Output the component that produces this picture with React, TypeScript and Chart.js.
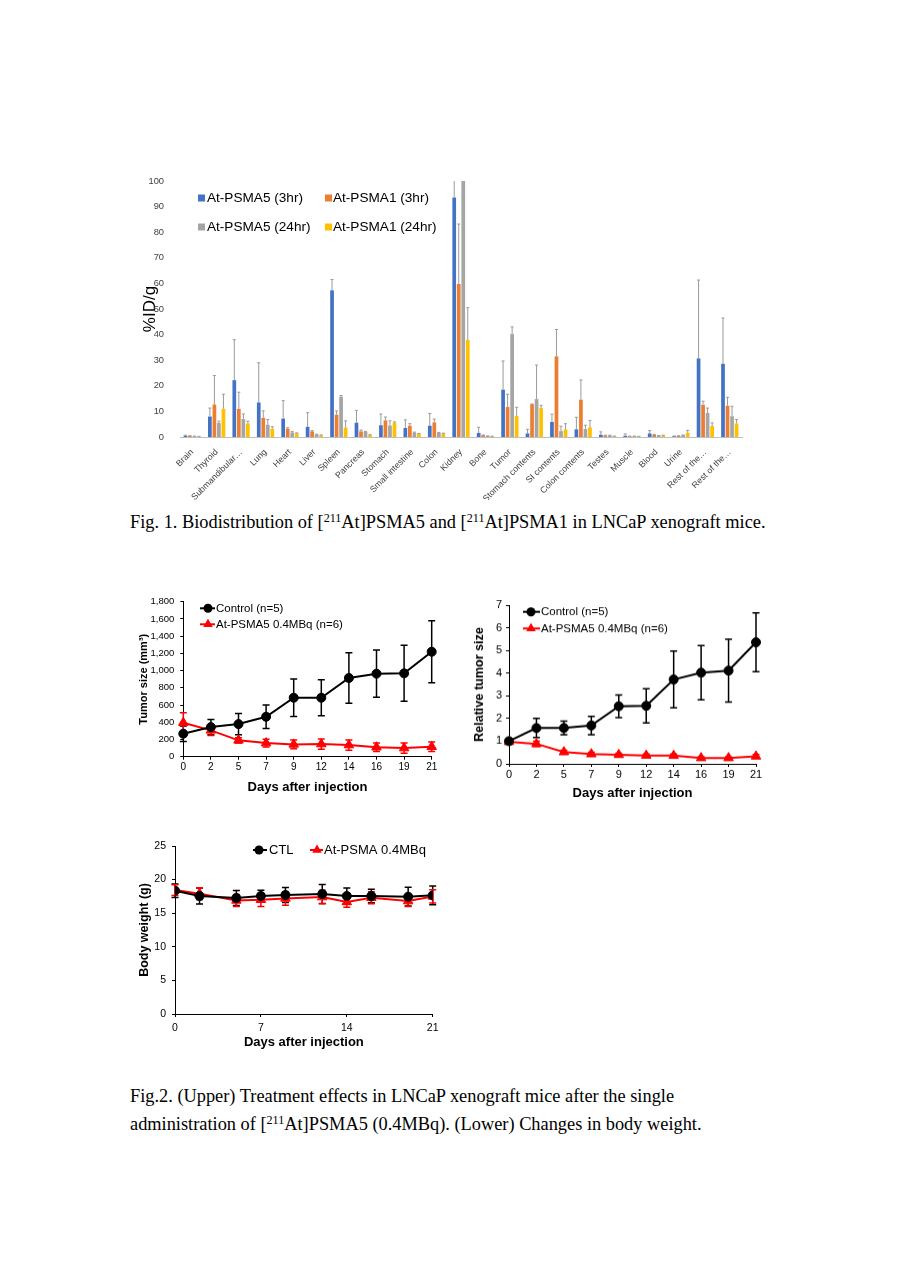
import React, { useEffect, useRef } from 'react';
import { Chart, registerables } from 'chart.js';

Chart.register(...registerables);
Chart.defaults.font.family = "'Liberation Sans', Arial, sans-serif";

// ---------------- Fig. 1 data ----------------
const ORGANS = ['Brain', 'Thyroid', 'Submandibular…', 'Lung', 'Heart', 'Liver', 'Spleen', 'Pancreas', 'Stomach', 'Small intestine', 'Colon', 'Kidney', 'Bone', 'Tumor', 'Stomach contents', 'SI contents', 'Colon contents', 'Testes', 'Muscle', 'Blood', 'Urine', 'Rest of the…', 'Rest of the…'];
const BAR_LABELS = ['At-PSMA5 (3hr)', 'At-PSMA1 (3hr)', 'At-PSMA5 (24hr)', 'At-PSMA1 (24hr)'];
const BAR_COLORS = ['#4472C4', '#ED7D31', '#A5A5A5', '#FFC000'];
const PSMA5_3H = [0.5, 8, 22.2, 13.5, 7.2, 4, 57.3, 5.6, 4.6, 3.5, 4.4, 93.6, 1.6, 18.5, 1.4, 5.9, 3, 0.9, 0.5, 1.4, 0.3, 30.7, 28.6];
const PSMA1_3H = [0.4, 12.7, 11, 7.5, 3.2, 2.2, 8.7, 2.2, 6.5, 4.4, 5.7, 59.8, 0.7, 11.7, 12.8, 31.5, 14.6, 0.6, 0.3, 0.8, 0.4, 12.6, 12.2];
const PSMA5_24H = [0.3, 5.5, 7, 4.8, 1.8, 1, 15.7, 2, 4.5, 1.7, 1.6, 106, 0.4, 40.2, 14.8, 2.3, 3.1, 0.6, 0.3, 0.5, 0.7, 9.4, 8.1];
const PSMA1_24H = [0.2, 11, 5.3, 3.2, 1.5, 0.7, 3.7, 0.8, 5.6, 1.3, 1.4, 37.9, 0.3, 8.2, 11.3, 3, 3.8, 0.3, 0.2, 0.6, 1.6, 4.3, 5.3];
const PSMA5_3H_SD = [0.2, 3.3, 15.8, 15.5, 7, 5.5, 4.2, 4.8, 4.4, 3.2, 4.8, 8, 2.2, 11.2, 1.6, 3, 4.7, 1.1, 0.7, 1.1, 0.1, 30.6, 17.9];
const PSMA1_3H_SD = [0.1, 11.3, 6.5, 2.7, 0.4, 0.3, 1.5, 0.5, 1.3, 0.8, 1.3, 23.4, 0.1, 5, 0.1, 10.5, 7.7, 0.1, 0.05, 0.2, 0.1, 1.4, 3.3];
const PSMA5_24H_SD = [0.05, 0.7, 2, 2, 0.4, 0.1, 0.5, 0.2, 1.8, 0.2, 0.2, 10, 0.05, 2.8, 13.3, 1.9, 1.5, 0.1, 0.05, 0.1, 0.1, 1.9, 3.9];
const PSMA1_24H_SD = [0.05, 5.7, 0.9, 0.8, 0.1, 0.1, 2.6, 0.1, 0.3, 0.1, 0.1, 12.6, 0.05, 3.4, 1.1, 2.2, 2.7, 0.05, 0.05, 0.1, 1, 1.2, 1.5];
const Y_TICKS_BAR = [0, 10, 20, 30, 40, 50, 60, 70, 80, 90, 100];

// ---------------- Fig. 2 data ----------------
const DAYS = [0, 2, 5, 7, 9, 12, 14, 16, 19, 21];
const DAY_LABELS = ['0', '2', '5', '7', '9', '12', '14', '16', '19', '21'];
const TUMOR_CTRL = [267, 344, 379, 464, 685, 685, 914, 964, 968, 1219];
const TUMOR_CTRL_SD = [90, 89, 124, 136, 217, 209, 294, 275, 325, 360];
const TUMOR_AT = [395, 306, 190, 158, 143, 147, 135, 110, 100, 116];
const TUMOR_AT_SD = [116, 60, 30, 45, 50, 60, 60, 50, 60, 55];
const REL_CTRL = [1, 1.58, 1.58, 1.69, 2.54, 2.56, 3.72, 4.02, 4.11, 5.36];
const REL_CTRL_SD = [0.05, 0.42, 0.3, 0.4, 0.5, 0.75, 1.25, 1.2, 1.38, 1.3];
const REL_AT = [0.97, 0.88, 0.52, 0.43, 0.4, 0.37, 0.36, 0.26, 0.26, 0.33];
const REL_AT_SD = [0.05, 0.12, 0.08, 0.08, 0.07, 0.06, 0.07, 0.05, 0.05, 0.08];
const BW_CTRL = [18.35, 17.56, 17.26, 17.56, 17.71, 17.86, 17.56, 17.56, 17.46, 17.66];
const BW_CTRL_SD = [1.0, 1.2, 1.1, 0.85, 1.1, 1.4, 1.2, 1.0, 1.4, 1.4];
const BW_AT = [18.45, 17.9, 16.9, 17.0, 17.2, 17.4, 16.67, 17.3, 16.8, 17.5];
const BW_AT_SD = [0.8, 0.9, 0.9, 1.0, 1.0, 1.0, 0.8, 0.9, 0.8, 1.0];

// ---------------- plugins ----------------
type ErrCfg = { errors: number[][]; colors: string[]; width: number; cap: number; both: boolean; phase: 'before' | 'after' };

function makeErrorPlugin(cfg: ErrCfg) {
  const draw = (chart: any) => {
    const { ctx, chartArea } = chart;
    ctx.save();
    ctx.beginPath();
    ctx.rect(0, chartArea.top, chart.width, chartArea.bottom - chartArea.top + 1);
    ctx.clip();
    chart.data.datasets.forEach((ds: any, i: number) => {
      const errs = cfg.errors[i];
      if (!errs) return;
      const meta = chart.getDatasetMeta(i);
      const yScale = chart.scales[meta.yAxisID];
      ctx.strokeStyle = cfg.colors[i];
      ctx.lineWidth = cfg.width;
      meta.data.forEach((el: any, j: number) => {
        const raw = ds.data[j];
        const v = typeof raw === 'number' ? raw : raw.y;
        const e = errs[j];
        const x = el.x;
        const yTop = yScale.getPixelForValue(v + e);
        const yBot = cfg.both ? yScale.getPixelForValue(v - e) : yScale.getPixelForValue(v);
        ctx.beginPath();
        ctx.moveTo(x, yBot);
        ctx.lineTo(x, yTop);
        ctx.moveTo(x - cfg.cap, yTop);
        ctx.lineTo(x + cfg.cap, yTop);
        if (cfg.both) {
          ctx.moveTo(x - cfg.cap, yBot);
          ctx.lineTo(x + cfg.cap, yBot);
        }
        ctx.stroke();
      });
    });
    ctx.restore();
  };
  return cfg.phase === 'before'
    ? { id: 'errBefore', beforeDatasetsDraw: draw }
    : { id: 'errAfter', afterDatasetsDraw: draw };
}

type LegItem = { index: number; x1: number; x2: number; mx: number; tx: number; y: number };
function makeLineLegend(items: LegItem[], fontSize: number) {
  return {
    id: 'lineLegend',
    afterDraw(chart: any) {
      const { ctx } = chart;
      ctx.save();
      items.forEach((it) => {
        const ds = chart.data.datasets[it.index];
        ctx.strokeStyle = ds.borderColor;
        ctx.lineWidth = ds.borderWidth;
        ctx.beginPath();
        ctx.moveTo(it.x1, it.y);
        ctx.lineTo(it.x2, it.y);
        ctx.stroke();
        ctx.fillStyle = ds.pointBackgroundColor;
        const r = ds.pointRadius;
        ctx.beginPath();
        if (ds.pointStyle === 'triangle') {
          let a = 0;
          ctx.moveTo(it.mx + Math.sin(a) * r, it.y - Math.cos(a) * r);
          a += (2 * Math.PI) / 3;
          ctx.lineTo(it.mx + Math.sin(a) * r, it.y - Math.cos(a) * r);
          a += (2 * Math.PI) / 3;
          ctx.lineTo(it.mx + Math.sin(a) * r, it.y - Math.cos(a) * r);
          ctx.closePath();
        } else {
          ctx.arc(it.mx, it.y, r, 0, Math.PI * 2);
        }
        ctx.fill();
        ctx.fillStyle = '#000';
        ctx.font = `${fontSize}px 'Liberation Sans', Arial, sans-serif`;
        ctx.textBaseline = 'middle';
        ctx.textAlign = 'left';
        ctx.fillText(ds.label, it.tx, it.y + 0.5);
      });
      ctx.restore();
    },
  };
}

type BoxItem = { index: number; x: number; tx: number; y: number };
function makeBoxLegend(items: BoxItem[], fontSize: number, size: number) {
  return {
    id: 'boxLegend',
    afterDraw(chart: any) {
      const { ctx } = chart;
      ctx.save();
      items.forEach((it) => {
        const ds = chart.data.datasets[it.index];
        ctx.fillStyle = ds.backgroundColor;
        ctx.fillRect(it.x, it.y - size / 2, size, size);
        ctx.fillStyle = '#000';
        ctx.font = `${fontSize}px 'Liberation Sans', Arial, sans-serif`;
        ctx.textBaseline = 'middle';
        ctx.textAlign = 'left';
        ctx.fillText(ds.label, it.tx, it.y + 0.5);
      });
      ctx.restore();
    },
  };
}

// ---------------- generic canvas component ----------------
function ChartBox({ left, top, width, height, make }: { left: number; top: number; width: number; height: number; make: () => any }) {
  const ref = useRef<HTMLCanvasElement | null>(null);
  useEffect(() => {
    if (!ref.current) return;
    const chart = new Chart(ref.current, make());
    return () => chart.destroy();
  }, []);
  return (
    <div style={{ position: 'absolute', left, top, width, height }}>
      <canvas ref={ref} />
    </div>
  );
}

const axisLine = (tickSize: number, pad: number, extra: any = {}) => ({
  grid: { display: true, drawOnChartArea: false, drawTicks: true, tickLength: 3, color: '#000', lineWidth: 1 },
  border: { display: true, color: '#000', width: 1 },
  ticks: { color: '#000', font: { size: tickSize }, padding: pad, autoSkip: false, ...extra },
});

function lineDataset(label: string, data: any[], color: string, style: string, radius: number) {
  return {
    label,
    data,
    borderColor: color,
    backgroundColor: color,
    borderWidth: 2,
    pointStyle: style,
    pointRadius: radius,
    pointBackgroundColor: color,
    pointBorderColor: color,
    pointBorderWidth: 1,
    tension: 0,
  };
}

function barConfig() {
  const series = [PSMA5_3H, PSMA1_3H, PSMA5_24H, PSMA1_24H];
  const sds = [PSMA5_3H_SD, PSMA1_3H_SD, PSMA5_24H_SD, PSMA1_24H_SD];
  return {
    type: 'bar',
    data: {
      labels: ORGANS,
      datasets: series.map((d, i) => ({
        label: BAR_LABELS[i],
        data: d,
        backgroundColor: BAR_COLORS[i],
        categoryPercentage: 0.74,
        barPercentage: 0.82,
      })),
    },
    options: {
      animation: false,
      responsive: true,
      maintainAspectRatio: false,
      layout: { padding: { top: 11, right: 18, left: 0, bottom: 0 } },
      plugins: { legend: { display: false }, tooltip: { enabled: false } },
      scales: {
        x: {
          grid: { display: false },
          border: { display: true, color: '#bfbfbf', width: 1 },
          ticks: { autoSkip: false, minRotation: 45, maxRotation: 45, font: { size: 8.8 }, color: '#404040', padding: 2 },
          afterFit: (s: any) => { s.height = 63; s.paddingLeft = 0; s.paddingRight = 0; },
        },
        y: {
          min: 0,
          max: 100,
          afterBuildTicks: (s: any) => { s.ticks = Y_TICKS_BAR.map((v) => ({ value: v })); },
          grid: { display: false },
          border: { display: false },
          ticks: { font: { size: 9.3 }, color: '#404040', padding: 8 },
          title: { display: true, text: '%ID/g', font: { size: 17 }, color: '#000', padding: 0 },
          afterFit: (s: any) => { s.width = 40; s.paddingTop = 0; s.paddingBottom = 0; },
        },
      },
    },
    plugins: [
      makeErrorPlugin({ errors: sds, colors: ['#9a9a9a', '#9a9a9a', '#9a9a9a', '#9a9a9a'], width: 1, cap: 1.5, both: false, phase: 'after' }),
      makeBoxLegend(
        [
          { index: 0, x: 58, tx: 67, y: 28 },
          { index: 1, x: 185, tx: 193, y: 28 },
          { index: 2, x: 58, tx: 67, y: 57 },
          { index: 3, x: 185, tx: 193, y: 57 },
        ],
        13.6,
        7
      ),
    ],
  };
}

function tumorConfig() {
  return {
    type: 'line',
    data: {
      labels: DAY_LABELS,
      datasets: [
        lineDataset('Control (n=5)', TUMOR_CTRL, '#000', 'circle', 4.5),
        lineDataset('At-PSMA5 0.4MBq (n=6)', TUMOR_AT, '#ff0000', 'triangle', 5.5),
      ],
    },
    options: {
      animation: false,
      responsive: true,
      maintainAspectRatio: false,
      layout: { padding: { top: 11.7, right: 18.3, left: 0, bottom: 0 } },
      plugins: { legend: { display: false }, tooltip: { enabled: false } },
      scales: {
        x: {
          type: 'category',
          offset: false,
          ...axisLine(10, 2),
          title: { display: true, text: 'Days after injection', font: { size: 13, weight: 'bold' }, color: '#000', padding: 0 },
          afterFit: (s: any) => { s.height = 38.3; s.paddingLeft = 0; s.paddingRight = 0; },
        },
        y: {
          min: 0,
          max: 1800,
          ...axisLine(9.5, 6, { stepSize: 200, callback: (v: number) => v.toLocaleString('en-US') }),
          title: { display: true, text: 'Tumor size (mm³)', font: { size: 11, weight: 'bold' }, color: '#000', padding: 0 },
          afterFit: (s: any) => { s.width = 46.3; s.paddingTop = 0; s.paddingBottom = 0; },
        },
      },
    },
    plugins: [
      makeErrorPlugin({ errors: [TUMOR_CTRL_SD, TUMOR_AT_SD], colors: ['#000', '#ff0000'], width: 1.5, cap: 3.5, both: true, phase: 'before' }),
      makeLineLegend(
        [
          { index: 0, x1: 63, x2: 78, mx: 71, tx: 79, y: 18.3 },
          { index: 1, x1: 63, x2: 78, mx: 71, tx: 79, y: 34.3 },
        ],
        11.5
      ),
    ],
  };
}

function relConfig() {
  return {
    type: 'line',
    data: {
      labels: DAY_LABELS,
      datasets: [
        lineDataset('Control (n=5)', REL_CTRL, '#000', 'circle', 4.5),
        lineDataset('At-PSMA5 0.4MBq (n=6)', REL_AT, '#ff0000', 'triangle', 5.5),
      ],
    },
    options: {
      animation: false,
      responsive: true,
      maintainAspectRatio: false,
      layout: { padding: { top: 15, right: 24, left: 0, bottom: 0 } },
      plugins: { legend: { display: false }, tooltip: { enabled: false } },
      scales: {
        x: {
          type: 'category',
          offset: false,
          ...axisLine(11, 1),
          title: { display: true, text: 'Days after injection', font: { size: 13, weight: 'bold' }, color: '#000', padding: 0 },
          afterFit: (s: any) => { s.height = 37.5; s.paddingLeft = 0; s.paddingRight = 0; },
        },
        y: {
          min: 0,
          max: 7,
          ...axisLine(11, 4, { stepSize: 1 }),
          title: { display: true, text: 'Relative tumor size', font: { size: 12.5, weight: 'bold' }, color: '#000', padding: 0 },
          afterFit: (s: any) => { s.width = 37; s.paddingTop = 0; s.paddingBottom = 0; },
        },
      },
    },
    plugins: [
      makeErrorPlugin({ errors: [REL_CTRL_SD, REL_AT_SD], colors: ['#000', '#ff0000'], width: 1.5, cap: 3.5, both: true, phase: 'before' }),
      makeLineLegend(
        [
          { index: 0, x1: 51, x2: 68, mx: 59, tx: 69, y: 21.7 },
          { index: 1, x1: 51, x2: 68, mx: 59, tx: 69, y: 38.3 },
        ],
        11.5
      ),
    ],
  };
}

function bwConfig() {
  const ctl = DAYS.map((d, i) => ({ x: d, y: BW_CTRL[i] }));
  const at = DAYS.map((d, i) => ({ x: d, y: BW_AT[i] }));
  return {
    type: 'line',
    data: {
      datasets: [
        lineDataset('CTL', ctl, '#000', 'circle', 4.5),
        lineDataset('At-PSMA 0.4MBq', at, '#ff0000', 'triangle', 5.5),
      ],
    },
    options: {
      animation: false,
      responsive: true,
      maintainAspectRatio: false,
      layout: { padding: { top: 11, right: 17.3, left: 0, bottom: 0 } },
      plugins: { legend: { display: false }, tooltip: { enabled: false } },
      scales: {
        x: {
          type: 'linear',
          min: 0,
          max: 21,
          ...axisLine(10.5, 5, { stepSize: 7 }),
          title: { display: true, text: 'Days after injection', font: { size: 13, weight: 'bold' }, color: '#000', padding: 0 },
          afterFit: (s: any) => { s.height = 36; s.paddingLeft = 0; s.paddingRight = 0; },
        },
        y: {
          min: 0,
          max: 25,
          ...axisLine(10.5, 6, { stepSize: 5 }),
          title: { display: true, text: 'Body weight (g)', font: { size: 12.5, weight: 'bold' }, color: '#000', padding: 0 },
          afterFit: (s: any) => { s.width = 38; s.paddingTop = 0; s.paddingBottom = 0; },
        },
      },
    },
    plugins: [
      makeErrorPlugin({ errors: [BW_CTRL_SD, BW_AT_SD], colors: ['#000', '#ff0000'], width: 1.5, cap: 3.5, both: true, phase: 'before' }),
      makeLineLegend(
        [
          { index: 0, x1: 116, x2: 130, mx: 122, tx: 132, y: 15 },
          { index: 1, x1: 173, x2: 186, mx: 180, tx: 187, y: 15 },
        ],
        13
      ),
    ],
  };
}

const supStyle: React.CSSProperties = { fontSize: '0.66em', position: 'relative', top: '-0.5em', verticalAlign: 'baseline' };
const captionStyle: React.CSSProperties = { position: 'absolute', left: 130, fontFamily: "'Liberation Serif', 'Times New Roman', serif", fontSize: 18.35, lineHeight: '28px', whiteSpace: 'nowrap', color: '#000' };

export default function App() {
  return (
    <div style={{ position: 'absolute', left: 0, top: 0, width: 905, height: 1280, background: '#fff', overflow: 'hidden' }}>
      <ChartBox left={140} top={170} width={620} height={330} make={barConfig} />
      <div style={{ ...captionStyle, top: 508 }}>
        Fig. 1. Biodistribution of [<span style={supStyle}>211</span>At]PSMA5 and [<span style={supStyle}>211</span>At]PSMA1 in LNCaP xenograft mice.
      </div>
      <ChartBox left={137} top={590} width={313} height={205} make={tumorConfig} />
      <ChartBox left={472} top={590} width={308} height={210.5} make={relConfig} />
      <ChartBox left={137} top={835} width={313} height={215} make={bwConfig} />
      <div style={{ ...captionStyle, top: 1082 }}>
        <div>Fig.2. (Upper) Treatment effects in LNCaP xenograft mice after the single</div>
        <div>
          administration of [<span style={supStyle}>211</span>At]PSMA5 (0.4MBq). (Lower) Changes in body weight.
        </div>
      </div>
    </div>
  );
}
